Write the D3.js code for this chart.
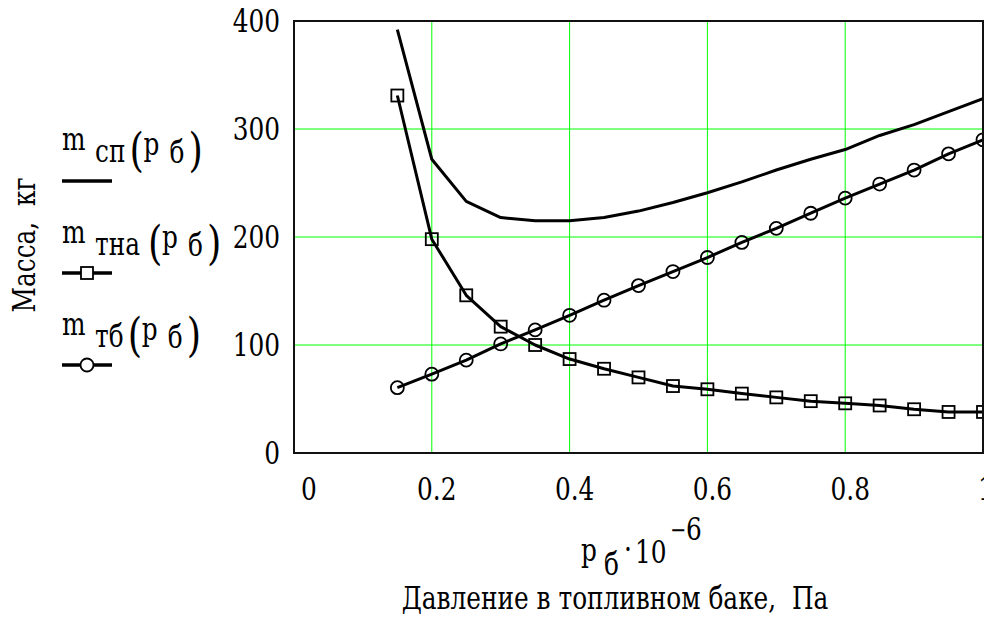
<!DOCTYPE html>
<html><head><meta charset="utf-8">
<script src="https://cdn.jsdelivr.net/npm/d3@7"></script>
<style>
body{margin:0;background:#fff;}
svg{display:block;}
</style></head>
<body>
<svg id="c" width="984" height="619"></svg>
<script>
const pressure = [0.15,0.2,0.25,0.3,0.35,0.4,0.45,0.5,0.55,0.6,0.65,0.7,0.75,0.8,0.85,0.9,0.95,1.0];
const mSp  = [392,272,233,218,215,215,218,224,232,241,251,262,272,281,294,304,316,328];
const mTna = [331,198,146,117,100,87,78,70,62,59,55,51.5,48,46,44,40.5,38,38];
const mTb  = [60.5,73,86,101,114,127.5,141.5,155,168,181,195,208,222,236,249,262,277,290];
const xTicks = [0,0.2,0.4,0.6,0.8,1];
const yTicks = [0,100,200,300,400];
const xTickLabels = ["0","0.2","0.4","0.6","0.8","1"];
const yTickLabels = ["0","100","200","300","400"];
const seriesNames = [["m","сп"],["m","тна"],["m","тб"]];
const seriesMarkers = ["none","square","circle"];

const FF = "'DejaVu Serif', serif";
const SX = 0.8;
const svg = d3.select("#c");
const L=294, R=983, T=21, B=453;
const x = d3.scaleLinear().domain([0,1]).range([L,R]);
const y = d3.scaleLinear().domain([0,400]).range([B,T]);

function txt(sel, s, px, py, size, anchor, rot){
  return sel.append("text").attr("x",0).attr("y",0)
    .attr("transform",`translate(${px},${py})${rot?" rotate(-90)":""} scale(${SX},1)`)
    .attr("font-size",size||30).attr("font-family",FF).attr("fill","#000")
    .attr("text-anchor",anchor||"start").attr("xml:space","preserve").text(s);
}

// grid
svg.append("g").selectAll("line").data(xTicks.slice(1,-1)).join("line")
  .attr("x1",d=>x(d)).attr("x2",d=>x(d)).attr("y1",T).attr("y2",B)
  .attr("stroke","#00ff00").attr("stroke-width",1);
svg.append("g").selectAll("line").data(yTicks.slice(1,-1)).join("line")
  .attr("x1",L).attr("x2",R).attr("y1",d=>y(d)).attr("y2",d=>y(d))
  .attr("stroke","#00ff00").attr("stroke-width",1);

svg.append("clipPath").attr("id","pc").append("rect")
  .attr("x",L).attr("y",T).attr("width",R-L).attr("height",B-T);

const series=[mSp,mTna,mTb];
const line = d3.line().x((d,i)=>x(pressure[i])).y(d=>y(d));
const pg = svg.append("g").attr("clip-path","url(#pc)");
series.forEach((s,k)=>{
  pg.append("path").attr("d",line(s)).attr("fill","none")
    .attr("stroke","#000").attr("stroke-width",3).attr("stroke-linejoin","round");
  if(seriesMarkers[k]==="square"){
    pg.selectAll(null).data(s).join("rect")
      .attr("x",(d,i)=>x(pressure[i])-6).attr("y",d=>y(d)-6)
      .attr("width",12).attr("height",12)
      .attr("fill","none").attr("stroke","#000").attr("stroke-width",1.8);
  } else if(seriesMarkers[k]==="circle"){
    pg.selectAll(null).data(s).join("circle")
      .attr("cx",(d,i)=>x(pressure[i])).attr("cy",d=>y(d)).attr("r",6.5)
      .attr("fill","none").attr("stroke","#000").attr("stroke-width",1.8);
  }
});

svg.append("rect").attr("x",L).attr("y",T).attr("width",R-L).attr("height",B-T)
  .attr("fill","none").attr("stroke","#111").attr("stroke-width",2);

// tick labels
yTicks.forEach((d,i)=>{ txt(svg, yTickLabels[i], 280, y(d)+11, 31, "end"); });
xTicks.forEach((d,i)=>{
  const last = i===xTicks.length-1;
  txt(svg, xTickLabels[i], i===0 ? x(d)+15 : (last ? x(d)-5 : x(d)+5), 500, 31, last?"start":"middle");
});

// axis titles
txt(svg,"Масса,  кг",35,245,31,"middle",true);
txt(svg,"p",581,561,31);
txt(svg,"б",604,575,31);
txt(svg,"·",624,560,31);
txt(svg,"10",635,563,31);
txt(svg,"−",670,538,24);
txt(svg,"6",686,540,31);
txt(svg,"Давление в топливном баке,  Па",615,609,31,"middle");

// legend
const legY = [150,243,335];
const lineY = [181,273,365];
legY.forEach((by,k)=>{
  const g = svg.append("g");
  const [nm,sub] = seriesNames[k];
  txt(g,nm,62,by,31);
  const st = txt(g,sub,95,by+12,31);
  const sw = st.node().getComputedTextLength()*SX;
  const px = 95+sw+(k===1?8:4);
  txt(g,"(",px,by+16,46).attr("font-weight",100);
  txt(g,"p",px+14,by+5,31);
  txt(g,"б",px+40,by+13,31);
  txt(g,")",px+59,by+16,46).attr("font-weight",100);
  g.append("line").attr("x1",62).attr("x2",112).attr("y1",lineY[k]).attr("y2",lineY[k])
    .attr("stroke","#000").attr("stroke-width",3.5);
  if(seriesMarkers[k]==="square"){
    g.append("rect").attr("x",81).attr("y",lineY[k]-6).attr("width",12).attr("height",12)
      .attr("fill","#fff").attr("stroke","#000").attr("stroke-width",1.8);
  } else if(seriesMarkers[k]==="circle"){
    g.append("circle").attr("cx",87).attr("cy",lineY[k]).attr("r",6.5)
      .attr("fill","#fff").attr("stroke","#000").attr("stroke-width",1.8);
  }
});
</script>
</body></html>
